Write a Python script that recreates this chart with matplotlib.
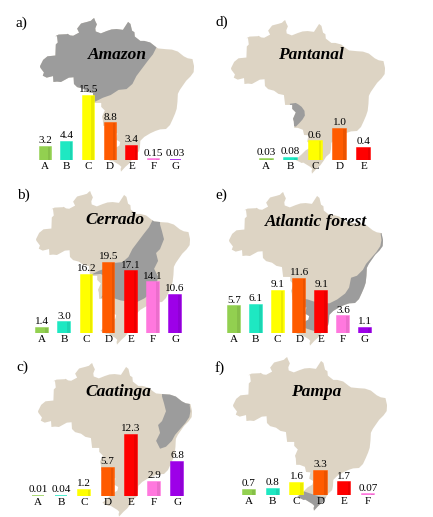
import matplotlib
matplotlib.use("Agg")
import matplotlib.pyplot as plt
from matplotlib.patches import Polygon

W, H = 433, 517

letters = ["A", "B", "C", "D", "E", "F", "G"]
bar_colors = ["#92d050", "#1ee8c2", "#ffff00", "#ff5b00", "#ff0000", "#ff78de", "#9d00e8"]

amazon = [3.2, 4.4, 15.5, 8.8, 3.4, 0.15, 0.03]
cerrado = [1.4, 3.0, 16.2, 19.5, 17.1, 14.1, 10.6]
caatinga = [0.01, 0.04, 1.2, 5.7, 12.3, 2.9, 6.8]
pantanal = [0.03, 0.08, 0.6, 1.0, 0.4]
atlantic = [5.7, 6.1, 9.1, 11.6, 9.1, 3.6, 1.1]
pampa = [0.7, 0.8, 1.6, 3.3, 1.7, 0.07]

# rough outline of Brazil (lon, lat)
brazil = [(-60.2, 5.2), (-59.9, 4.4), (-59.5, 3.6), (-59.9, 2.6), (-59.8, 1.8), (-58.5, 1.3),
          (-57.0, 1.9), (-55.8, 2.3), (-54.5, 2.4), (-52.9, 2.2), (-51.6, 4.2), (-51.0, 3.7),
          (-50.6, 2.0), (-50.0, 1.6), (-49.9, 0.5), (-48.5, -0.6), (-47.5, -0.6), (-46.0, -1.0),
          (-44.6, -2.1), (-44.0, -2.5), (-42.0, -2.7), (-40.5, -2.8), (-39.0, -3.3), (-37.5, -4.5),
          (-36.5, -5.0), (-35.3, -5.2), (-34.9, -7.0), (-35.0, -8.5), (-35.8, -9.6), (-36.9, -10.7),
          (-37.6, -11.7), (-38.5, -13.0), (-39.0, -14.0), (-39.1, -16.0), (-39.3, -17.8),
          (-39.7, -19.0), (-40.3, -20.4), (-41.0, -21.9), (-42.0, -22.9), (-43.5, -23.0),
          (-44.7, -23.4), (-46.0, -24.0), (-47.5, -24.9), (-48.5, -25.9), (-48.6, -27.5),
          (-48.8, -28.5), (-49.8, -29.4), (-50.5, -30.5), (-51.3, -31.6), (-52.3, -32.5),
          (-53.4, -33.7), (-53.5, -33.0), (-53.3, -32.5), (-53.8, -32.0), (-55.6, -30.9),
          (-56.0, -31.0), (-57.6, -30.2), (-56.0, -28.8), (-55.0, -27.8), (-53.8, -27.1),
          (-53.6, -26.2), (-54.6, -25.6), (-54.3, -24.0), (-55.4, -23.9), (-55.7, -22.6),
          (-57.0, -22.1), (-57.9, -22.1), (-58.0, -20.5), (-58.2, -19.8), (-57.5, -18.2),
          (-58.4, -17.3), (-58.4, -16.3), (-60.2, -16.3), (-60.5, -13.8), (-61.9, -13.5),
          (-63.0, -12.7), (-64.5, -12.3), (-65.3, -11.5), (-65.4, -9.8), (-66.6, -9.9),
          (-68.6, -11.0), (-69.6, -10.9), (-70.5, -11.0), (-70.6, -9.5), (-72.2, -9.9),
          (-73.2, -9.4), (-72.9, -8.6), (-73.8, -7.4), (-73.9, -7.0), (-73.1, -5.4),
          (-72.0, -4.5), (-70.0, -4.3), (-69.9, -1.5), (-69.4, -1.0), (-69.6, 0.6),
          (-70.0, 0.6), (-69.2, 1.0), (-67.1, 1.1), (-66.9, 1.2), (-66.3, 0.8), (-65.5, 0.7),
          (-64.0, 1.5), (-64.5, 2.5), (-63.5, 3.8), (-62.8, 4.0), (-62.0, 4.2), (-61.0, 4.5),
          (-60.6, 4.9)]

# biome shapes, clipped to the outline afterwards
amazon_shape = [(-44.3, -1.0), (-44.3, -2.0), (-45.3, -4.0), (-46.5, -5.5), (-48.0, -7.5),
                (-49.5, -9.5), (-50.5, -11.5), (-52.0, -12.8), (-54.0, -13.0), (-56.0, -14.3),
                (-58.0, -15.0), (-60.0, -16.0), (-61.0, -17.5), (-80, -17.5), (-80, 10), (-44.3, 10)]
cerrado_shape = [(-44.3, -2.0), (-42.5, -2.0), (-42.5, -3.3), (-42.0, -5.0), (-41.5, -7.0),
                 (-42.5, -9.5), (-43.5, -10.5), (-43.0, -12.5), (-44.0, -14.5), (-43.0, -16.5),
                 (-43.5, -19.0), (-44.5, -20.5), (-46.5, -22.0), (-48.5, -23.0), (-50.5, -22.8),
                 (-52.5, -22.5), (-54.0, -22.0), (-56.5, -21.6), (-57.5, -21.8), (-56.5, -20.8),
                 (-55.8, -20.0), (-55.2, -19.0), (-55.3, -17.8), (-56.0, -16.8), (-56.8, -16.2),
                 (-57.5, -15.8), (-60.0, -16.0), (-58.0, -15.0), (-56.0, -14.3), (-54.0, -13.0),
                 (-52.0, -12.8), (-50.5, -11.5), (-49.5, -9.5), (-48.0, -7.5), (-46.5, -5.5),
                 (-45.3, -4.0)]
caatinga_shape = [(-42.5, -1.0), (-42.5, -3.3), (-42.0, -5.0), (-41.5, -7.0), (-42.5, -9.5),
                  (-43.5, -10.5), (-43.0, -12.5), (-44.0, -14.5), (-43.0, -16.5), (-41.5, -16.0),
                  (-40.0, -14.5), (-39.2, -13.0), (-37.9, -11.5), (-36.6, -10.0), (-35.6, -8.5),
                  (-35.3, -7.0), (-35.5, -5.5), (-35.3, -4.0), (-34.0, -4.0), (-34.0, -1.0)]
atlantic_shape = [(-35.3, -4.0), (-35.5, -5.5), (-35.3, -7.0), (-35.6, -8.5), (-36.6, -10.0),
                  (-37.9, -11.5), (-39.2, -13.0), (-40.0, -14.5), (-41.5, -16.0), (-43.0, -16.5),
                  (-43.5, -19.0), (-44.5, -20.5), (-46.5, -22.0), (-48.5, -23.0), (-50.5, -22.8),
                  (-52.5, -22.5), (-54.0, -22.0), (-56.5, -21.6), (-60, -24), (-60, -28.5),
                  (-56.0, -28.8), (-54.5, -29.3), (-53.0, -29.8), (-51.5, -30.2), (-50.6, -30.3),
                  (-49, -31), (-30, -31), (-30, -4.0)]
pampa_shape = [(-56.0, -28.8), (-54.5, -29.3), (-53.0, -29.8), (-51.5, -30.2), (-50.6, -30.3),
               (-49, -31), (-49, -36), (-60, -36), (-60, -28.5)]
pantanal_shape = [(-57.5, -15.8), (-56.8, -16.2), (-56.0, -16.8), (-55.3, -17.8), (-55.2, -19.0),
                  (-55.8, -20.0), (-56.5, -20.8), (-57.5, -21.8), (-58.5, -21.5), (-59, -16)]

LAND = "#ddd4c4"
GREY = "#9c9c9c"
SERIF = "Liberation Serif"

fig = plt.figure(figsize=(W / 100, H / 100), dpi=100)


def px_axes(x, y, w, h):
    return fig.add_axes([x / W, 1 - (y + h) / H, w / W, h / H])


def draw_map(xw, yn, shape, s=3.95):
    ax = px_axes(xw, yn, 39.1 * s, 38.9 * s)
    ax.set_xlim(-73.9, -34.8)
    ax.set_ylim(-33.7, 5.2)
    ax.axis("off")
    land = Polygon(brazil, closed=True, fc=LAND, ec="none")
    ax.add_patch(land)
    biome = Polygon(shape, closed=True, fc=GREY, ec="none")
    ax.add_patch(biome)
    biome.set_clip_path(land)


def draw_bars(vals, x0, step, base, scale, bw):
    n = len(vals)
    hb = 120
    ax = px_axes(x0 - step / 2, base - hb, step * n, hb)
    ax.patch.set_alpha(0)
    ax.set_xlim(-0.5, n - 0.5)
    ax.set_ylim(0, hb / scale)
    cols = bar_colors[:n]
    w = bw / step
    ax.bar(range(n), vals, width=w, color=cols, edgecolor=cols, linewidth=1.1)
    # darker right side for the 3d look
    ax.bar([i + w * 0.38 for i in range(n)], vals, width=w * 0.22, color="black",
           alpha=0.08, linewidth=0)
    for i, v in enumerate(vals):
        ax.annotate(str(v), (i, v), xytext=(0, 1.2), textcoords="offset points",
                    ha="center", va="bottom", fontsize=8, family=SERIF)
    ax.set_xticks(range(n))
    ax.set_xticklabels(letters[:n], fontsize=8, family=SERIF)
    ax.tick_params(axis="x", length=0, pad=1.5)
    ax.set_yticks([])
    for sp in ax.spines.values():
        sp.set_visible(False)


def label(x, y, txt, title, tx, ty):
    fig.text(x / W, 1 - y / H, txt, fontsize=11, family=SERIF, va="center", ha="left")
    fig.text(tx / W, 1 - ty / H, title, fontsize=12.5, family=SERIF, weight="bold",
             style="italic", ha="center", va="center")


draw_map(40, 18, amazon_shape)
draw_bars(amazon, 45, 21.7, 160, 4.15, 11)
label(16, 23, "a)", "Amazon", 117, 55)

draw_map(36, 191, cerrado_shape)
draw_bars(cerrado, 42, 22.2, 333, 3.6, 11.5)
label(17, 195, "b)", "Cerrado", 115, 220)

draw_map(38, 363, caatinga_shape)
draw_bars(caatinga, 38, 23.2, 496, 5.0, 12)
label(16, 367, "c)", "Caatinga", 118, 392)

draw_map(231, 20, pantanal_shape)
draw_bars(pantanal, 266, 24.5, 160, 31, 13)
label(215, 22, "d)", "Pantanal", 311, 55)

draw_map(229, 192, atlantic_shape)
draw_bars(atlantic, 234, 21.8, 333, 4.65, 12)
label(215, 195, "e)", "Atlantic forest", 316, 222)

draw_map(233, 357, pampa_shape)
draw_bars(pampa, 249, 23.8, 495, 7.4, 12.5)
label(215, 368, "f)", "Pampa", 316, 392)

fig.savefig("out.png", dpi=100, facecolor="white")
